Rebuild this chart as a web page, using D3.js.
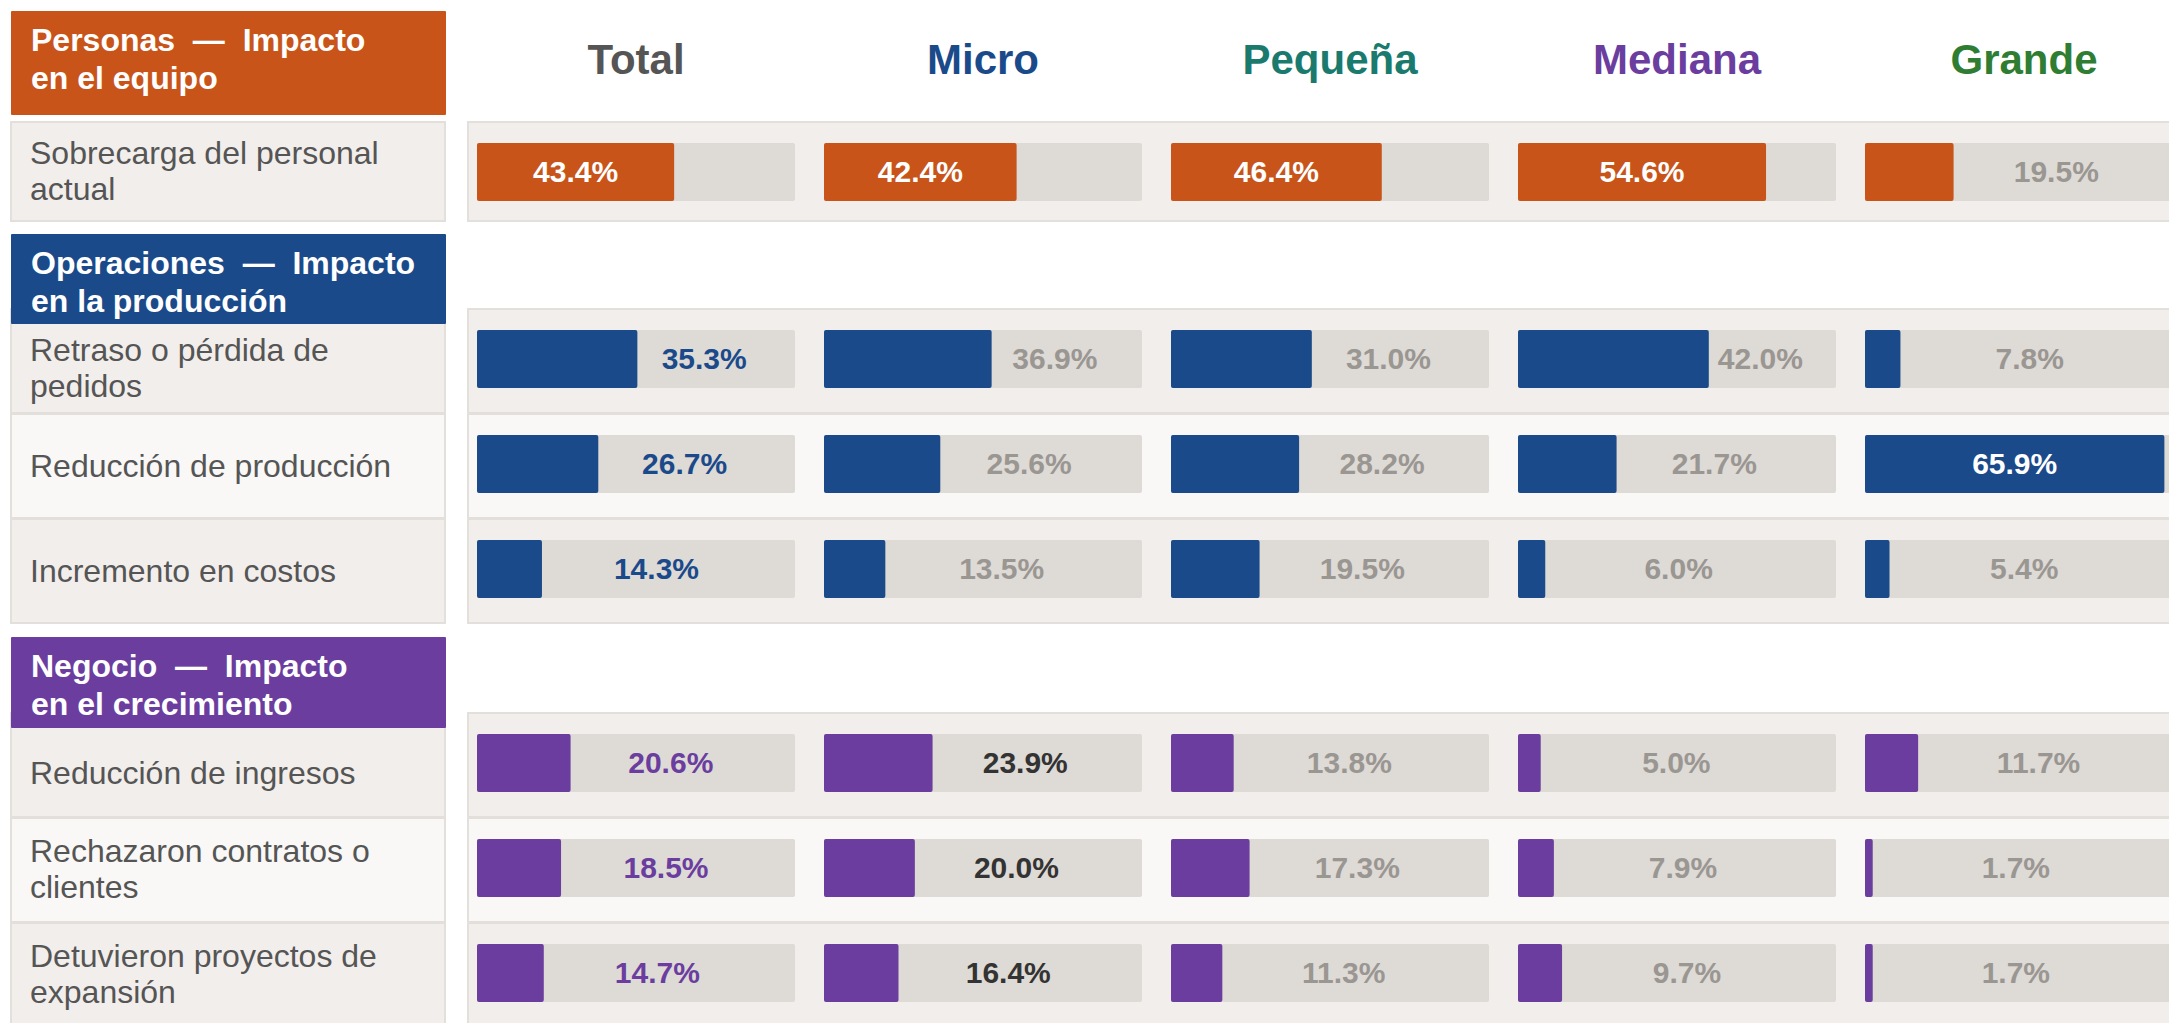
<!DOCTYPE html>
<html>
<head>
<meta charset="utf-8">
<script src="https://cdn.jsdelivr.net/npm/d3@7"></script>
<style>
    body { margin: 0; background: #fff; }
    svg text { font-family: "Liberation Sans", Arial, sans-serif; }
</style>
</head>
<body>
<div id="chart"></div>
<script>
// datos
var columnas = ["Total", "Micro", "Pequeña", "Mediana", "Grande"];
var coloresColumna = ["#555555", "#1b4a8a", "#1a7a6e", "#6a3d9f", "#2e7d32"];

var seccionLinea1 = ["Personas  —  Impacto", "Operaciones  —  Impacto", "Negocio  —  Impacto"];
var seccionLinea2 = ["en el equipo", "en la producción", "en el crecimiento"];
var coloresSeccion = ["#c8541a", "#1b4a8a", "#6a3d9f"];

var filas = [
    ["Sobrecarga del personal", "actual"],
    ["Retraso o pérdida de", "pedidos"],
    ["Reducción de producción"],
    ["Incremento en costos"],
    ["Reducción de ingresos"],
    ["Rechazaron contratos o", "clientes"],
    ["Detuvieron proyectos de", "expansión"]
];
var filaSeccion = [0, 1, 1, 1, 2, 2, 2];

var total   = [43.4, 35.3, 26.7, 14.3, 20.6, 18.5, 14.7];
var micro   = [42.4, 36.9, 25.6, 13.5, 23.9, 20.0, 16.4];
var pequena = [46.4, 31.0, 28.2, 19.5, 13.8, 17.3, 11.3];
var mediana = [54.6, 42.0, 21.7, 6.0, 5.0, 7.9, 9.7];
var grande  = [19.5, 7.8, 65.9, 5.4, 11.7, 1.7, 1.7];
var series = [total, micro, pequena, mediana, grande];

// celdas con etiqueta resaltada [fila, columna]
var destacados = [[4, 1], [5, 1], [6, 1]];

// layout
var width = 2169, height = 1023;
var secTop = [11, 234, 637];
var secH = [104, 90, 91];
var primeraFila = [172, 359, 763];
var paso = 105;
var trackH = 58;

var svg = d3.select("#chart").append("svg")
    .attr("width", width)
    .attr("height", height);

var xCol = d3.scaleBand()
    .domain(columnas)
    .range([477, 2183])
    .paddingInner(29 / 347)
    .paddingOuter(0)
    .align(0);

var x = d3.scaleLinear().domain([0, 70]).range([0, xCol.bandwidth()]);

// centro vertical de cada fila
var idxEnSeccion = filas.map(function(f, i) {
    return filaSeccion.slice(0, i).filter(function(v) { return v === filaSeccion[i]; }).length;
});
var centros = filas.map(function(f, i) {
    return primeraFila[filaSeccion[i]] + idxEnSeccion[i] * paso;
});
// alto de cada banda: la unica fila de la primera seccion es algo mas baja
var altoFila = filas.map(function(f, i) { return filaSeccion[i] === 0 ? 99 : 104; });

// encabezados de columna
svg.selectAll("text.col")
    .data(columnas)
    .enter().append("text")
    .attr("class", "col")
    .attr("x", function(d) { return xCol(d) + xCol.bandwidth() / 2; })
    .attr("y", 74)
    .attr("text-anchor", "middle")
    .style("font-size", "42px")
    .style("font-weight", "bold")
    .style("fill", function(d, i) { return coloresColumna[i]; })
    .text(function(d) { return d; });

// fondos de filas
var filaG = svg.selectAll("g.fila")
    .data(filas)
    .enter().append("g")
    .attr("class", "fila");

filaG.append("rect")
    .attr("x", 11).attr("width", 434)
    .attr("y", function(d, i) { return centros[i] - 50; })
    .attr("height", function(d, i) { return altoFila[i]; })
    .style("fill", function(d, i) { return idxEnSeccion[i] % 2 ? "#f9f8f6" : "#f2eeeb"; })
    .style("stroke", "#e3dfdb")
    .style("stroke-width", 2);

filaG.append("rect")
    .attr("x", 468).attr("width", 1750)
    .attr("y", function(d, i) { return centros[i] - 50; })
    .attr("height", function(d, i) { return altoFila[i]; })
    .style("fill", function(d, i) { return idxEnSeccion[i] % 2 ? "#f9f8f6" : "#f2eeeb"; })
    .style("stroke", "#e3dfdb")
    .style("stroke-width", 2);

// encabezados de seccion
var secG = svg.selectAll("g.sec")
    .data(seccionLinea1)
    .enter().append("g")
    .attr("class", "sec");

secG.append("rect")
    .attr("x", 11).attr("width", 435)
    .attr("y", function(d, i) { return secTop[i]; })
    .attr("height", function(d, i) { return secH[i]; })
    .attr("rx", 1)
    .style("fill", function(d, i) { return coloresSeccion[i]; });

secG.append("text")
    .attr("x", 31)
    .attr("y", function(d, i) { return secTop[i] + 40; })
    .style("font-size", "32px")
    .style("font-weight", "bold")
    .style("fill", "#fff")
    .style("white-space", "pre")
    .text(function(d) { return d; });

secG.append("text")
    .attr("x", 31)
    .attr("y", function(d, i) { return secTop[i] + 78; })
    .style("font-size", "32px")
    .style("font-weight", "bold")
    .style("fill", "#fff")
    .text(function(d, i) { return seccionLinea2[i]; });

// etiquetas de filas
filaG.each(function(lineas, i) {
    var s = filaSeccion[i];
    var top = Math.max(centros[i] - 50, idxEnSeccion[i] === 0 ? secTop[s] + secH[s] : 0);
    var mid = (top + centros[i] - 50 + altoFila[i]) / 2;
    var base0 = lineas.length === 1 ? mid + 11 : mid - 8;
    d3.select(this).selectAll("text.lab")
        .data(lineas)
        .enter().append("text")
        .attr("class", "lab")
        .attr("x", 30)
        .attr("y", function(d, j) { return base0 + j * 36; })
        .style("font-size", "32px")
        .style("fill", "#555")
        .text(function(d) { return d; });
});

// barras
var celdas = [];
filas.forEach(function(f, i) {
    columnas.forEach(function(c, j) {
        celdas.push({ fila: i, col: c, j: j, v: series[j][i] });
    });
});

var celdaG = svg.selectAll("g.celda")
    .data(celdas)
    .enter().append("g")
    .attr("class", "celda")
    .attr("transform", function(d) {
        return "translate(" + xCol(d.col) + "," + (centros[d.fila] - 29) + ")";
    });

celdaG.append("rect")
    .attr("width", xCol.bandwidth())
    .attr("height", trackH)
    .attr("rx", 2)
    .style("fill", "#dedad6");

celdaG.append("rect")
    .attr("width", function(d) { return x(d.v); })
    .attr("height", trackH)
    .attr("rx", 2)
    .style("fill", function(d) { return coloresSeccion[filaSeccion[d.fila]]; });

var fmt = d3.format(".1f");

celdaG.append("text")
    .attr("y", trackH / 2 + 10)
    .attr("text-anchor", "middle")
    .style("font-size", "30px")
    .style("font-weight", "bold")
    .attr("x", function(d) {
        var fin = x(d.v);
        if (d.v / 70 > 0.6) return fin / 2;
        return (fin + xCol.bandwidth()) / 2 - 12;
    })
    .style("fill", function(d) {
        if (d.v / 70 > 0.6) return "#fff";
        var dest = destacados.some(function(p) { return p[0] === d.fila && p[1] === d.j; });
        if (dest) return "#333";
        if (d.j === 0) return coloresSeccion[filaSeccion[d.fila]];
        return "#9a9692";
    })
    .text(function(d) { return fmt(d.v) + "%"; });
</script>
</body>
</html>
